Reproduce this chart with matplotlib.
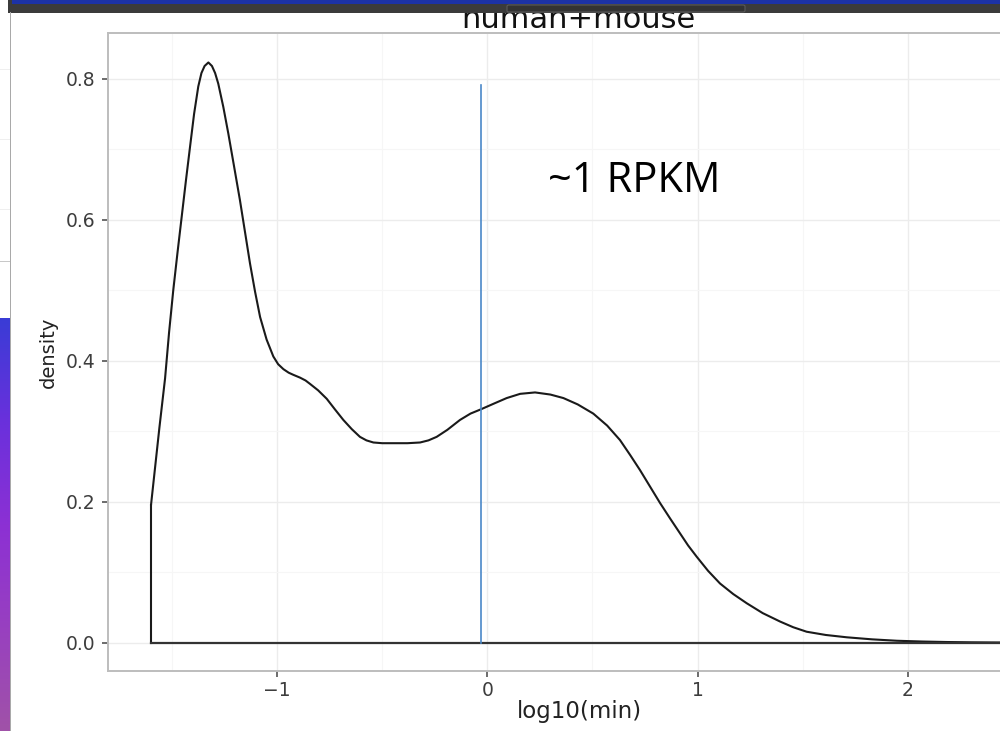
import numpy as np
import matplotlib
matplotlib.use("Agg")
import matplotlib.pyplot as plt
from matplotlib.patches import Rectangle, FancyBboxPatch

# ---- data ----
dens_x = [-1.600, -1.580, -1.560, -1.533, -1.514, -1.494, -1.474, -1.454, -1.434,
          -1.414, -1.395, -1.375, -1.360, -1.345, -1.327, -1.310, -1.295, -1.280,
          -1.256, -1.232, -1.205, -1.177, -1.153, -1.129, -1.105, -1.081, -1.050,
          -1.018, -0.995, -0.970, -0.945, -0.923, -0.891, -0.865, -0.843, -0.805,
          -0.764, -0.725, -0.685, -0.645, -0.606, -0.575, -0.542, -0.500, -0.447,
          -0.380, -0.320, -0.280, -0.241, -0.190, -0.130, -0.080, -0.031, 0.030,
          0.092, 0.156, 0.227, 0.300, 0.362, 0.430, 0.504, 0.570, 0.631, 0.680,
          0.726, 0.775, 0.822, 0.870, 0.917, 0.955, 0.996, 1.050, 1.107, 1.170,
          1.234, 1.310, 1.393, 1.455, 1.519, 1.610, 1.710, 1.830, 1.948, 2.070,
          2.186, 2.300, 2.400, 2.540]
dens_y = [0.195, 0.250, 0.305, 0.375, 0.440, 0.500, 0.553, 0.604, 0.655,
          0.704, 0.750, 0.789, 0.808, 0.818, 0.823, 0.818, 0.808, 0.793,
          0.760, 0.722, 0.676, 0.628, 0.583, 0.538, 0.498, 0.462, 0.430,
          0.406, 0.395, 0.388, 0.383, 0.380, 0.376, 0.372, 0.367, 0.358,
          0.346, 0.331, 0.316, 0.303, 0.292, 0.287, 0.284, 0.283, 0.283,
          0.283, 0.284, 0.287, 0.292, 0.302, 0.316, 0.325, 0.331, 0.339,
          0.347, 0.353, 0.355, 0.352, 0.347, 0.338, 0.325, 0.308, 0.2875, 0.266,
          0.245, 0.221, 0.198, 0.176, 0.155, 0.138, 0.122, 0.102, 0.084, 0.069,
          0.056, 0.042, 0.030, 0.022, 0.0156, 0.0110, 0.0077, 0.0048, 0.0028, 0.0017,
          0.0010, 0.0006, 0.0004, 0.0002]
vline_x = -0.031
vline_top = 0.791
x_ticks = [-1, 0, 1, 2]
x_tick_labels = ["\u22121", "0", "1", "2"]
y_ticks = [0.0, 0.2, 0.4, 0.6, 0.8]
y_tick_labels = ["0.0", "0.2", "0.4", "0.6", "0.8"]
title = "human+mouse"
x_label = "log10(min)"
y_label = "density"
note = "~1 RPKM"

W, H = 1000, 731
fig = plt.figure(figsize=(W / 100, H / 100), dpi=100)
fig.patch.set_facecolor("white")

def fx(px):
    return px / W

def fy(py):
    return 1 - py / H

ax = fig.add_axes([fx(108), fy(671), fx(1020) - fx(108), fy(33) - fy(671)])
ax.set_xlim(-1.8045, 2.534)
ax.set_ylim(-0.0401, 0.8648)

# grid
ax.set_xticks(x_ticks)
ax.set_xticklabels(x_tick_labels)
ax.set_yticks(y_ticks)
ax.set_yticklabels(y_tick_labels)
ax.set_xticks([-1.5, -0.5, 0.5, 1.5, 2.5], minor=True)
ax.set_yticks([0.1, 0.3, 0.5, 0.7], minor=True)
ax.grid(True, which="major", color="#ececec", linewidth=1.0)
ax.grid(True, which="minor", color="#f6f6f6", linewidth=0.8)
ax.set_axisbelow(True)
ax.tick_params(which="minor", length=0)
ax.tick_params(which="major", length=4, width=1.1, color="#444444",
               labelsize=13.5, labelcolor="#3d3d3d", pad=3)
ax.tick_params(axis="y", pad=5)
for s in ax.spines.values():
    s.set_color("#bdbdbd")
    s.set_linewidth(1.4)

# density outline (ggplot style: closed at left edge, baseline along 0)
ax.plot([dens_x[0], dens_x[0]], [0, dens_y[0]], color="#1a1a1a", lw=1.5, solid_joinstyle="round")
ax.plot(dens_x, dens_y, color="#1a1a1a", lw=1.5, solid_joinstyle="round",
        solid_capstyle="round")
ax.plot([dens_x[0], dens_x[-1]], [0, 0], color="#333333", lw=1.6)

ax.plot([vline_x, vline_x], [0, vline_top], color="#4a88c8", lw=1.2)

ax.text(0.29, 0.655, note, fontsize=30, family="Open Sans", color="black",
        ha="left", va="center")

ax.set_xlabel(x_label, fontsize=16.5, color="#222222")
ax.xaxis.set_label_coords((579 - 108) / (1020 - 108), -0.046)
ax.set_ylabel(y_label, fontsize=14, color="#222222", labelpad=6)

fig.text(fx(578), fy(28), title, ha="center", va="baseline", fontsize=22, color="#111111")

# ---- screenshot surroundings ----
fig.add_artist(Rectangle((fx(8), fy(13)), 1, fy(0) - fy(13), transform=fig.transFigure,
                         facecolor="#3b3b3b", edgecolor="none", zorder=20))
fig.add_artist(Rectangle((fx(12), fy(4)), 1, fy(0) - fy(4), transform=fig.transFigure,
                         facecolor="#1c32a6", edgecolor="none", zorder=21))
fig.add_artist(FancyBboxPatch((fx(507), fy(12)), fx(745) - fx(507), fy(5) - fy(12),
                              boxstyle="round,pad=0,rounding_size=0.002",
                              transform=fig.transFigure, facecolor="#333333",
                              edgecolor="#5a5a5a", lw=0.8, zorder=22))
fig.add_artist(Rectangle((fx(9.5), 0), fx(1.2), fy(12), transform=fig.transFigure,
                         facecolor="#a9a9a9", edgecolor="none", zorder=20))
for yy in [70, 140, 210]:
    fig.add_artist(Rectangle((0, fy(yy)), fx(9.5), fy(yy - 1) - fy(yy), transform=fig.transFigure,
                             facecolor="#efefef", edgecolor="none", zorder=20))
fig.add_artist(Rectangle((0, fy(262)), fx(9.5), fy(261) - fy(262), transform=fig.transFigure,
                         facecolor="#c8c8c8", edgecolor="none", zorder=20))

gax = fig.add_axes([0, 0, fx(9.5), fy(318)])
gax.set_axis_off()
stops = np.array([[0x3a, 0x3c, 0xd6], [0x6a, 0x30, 0xdc], [0x8c, 0x30, 0xd4],
                  [0x98, 0x40, 0xc0], [0xa0, 0x52, 0xa8]]) / 255.0
t = np.linspace(0, 1, 200)
pos = np.linspace(0, 1, len(stops))
grad = np.stack([np.interp(t, pos, stops[:, c]) for c in range(3)], axis=1)
gax.imshow(grad[:, None, :], aspect="auto", extent=[0, 1, 0, 1], origin="upper")

fig.savefig("out.png", dpi=100)
